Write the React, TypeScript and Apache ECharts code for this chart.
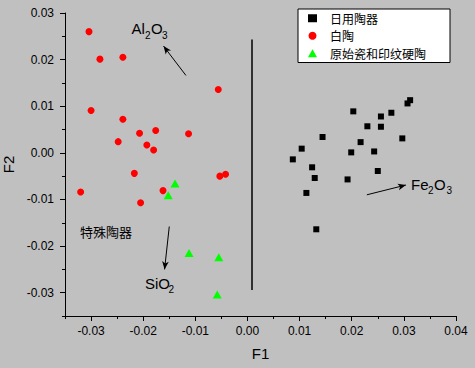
import React, { useEffect, useRef } from "react";
import * as echarts from "echarts";

// 日用陶器 (black squares)
const dailyWare: number[][] = [
  [0.0312, 0.0113], [0.0307, 0.0106], [0.0203, 0.0089], [0.0256, 0.0078], [0.0276, 0.0086],
  [0.0230, 0.0057], [0.0256, 0.0056], [0.0144, 0.0034], [0.0297, 0.0031], [0.0217, 0.0023],
  [0.0104, 0.0009], [0.0199, 0.0001], [0.0243, 0.0003], [0.0087, -0.0014], [0.0124, -0.0031],
  [0.0129, -0.0054], [0.0192, -0.0057], [0.0250, -0.0039], [0.0113, -0.0086], [0.0132, -0.0164],
];
// 白陶 (red dots)
const whiteWare: number[][] = [
  [-0.0304, 0.0260], [-0.0283, 0.0201], [-0.0239, 0.0205], [-0.0056, 0.0136], [-0.0300, 0.0091],
  [-0.0239, 0.0072], [-0.0207, 0.0042], [-0.0176, 0.0048], [-0.0113, 0.0041], [-0.0248, 0.0024],
  [-0.0193, 0.0017], [-0.0180, 0.0006], [-0.0217, -0.0044], [-0.0320, -0.0084], [-0.0162, -0.0081],
  [-0.0205, -0.0107], [-0.0053, -0.0050], [-0.0042, -0.0046],
];
// 原始瓷和印纹硬陶 (green triangles)
const protoWare: number[][] = [
  [-0.0139, -0.0066], [-0.0152, -0.0091], [-0.0112, -0.0215], [-0.0055, -0.0224], [-0.0058, -0.0304],
];

const seriesNames = ["日用陶器", "白陶", "原始瓷和印纹硬陶"];
const xTicks = [-0.03, -0.02, -0.01, 0, 0.01, 0.02, 0.03, 0.04];
const xMinorTicks = [-0.035, -0.025, -0.015, -0.005, 0.005, 0.015, 0.025, 0.035];
const yTicks = [-0.03, -0.02, -0.01, 0, 0.01, 0.02, 0.03];
const yMinorTicks = [-0.035, -0.025, -0.015, -0.005, 0.005, 0.015, 0.025];

// divider line and arrows (data coordinates): [start, end(head)]
const dividerLine = [[0.0009, 0.0243], [0.0009, -0.0294]];
const arrowAl2O3 = [[-0.0118, 0.0166], [-0.0161, 0.0229]];
const arrowSiO2 = [[-0.0150, -0.0158], [-0.0159, -0.0250]];
const arrowFe2O3 = [[0.0229, -0.0090], [0.0304, -0.0069]];

const AX_FONT = "Liberation Sans, Arial, sans-serif";
const CJK_FONT = "Noto Sans CJK SC, sans-serif";

function txt(text: string, x: number, y: number, size: number, font = AX_FONT) {
  return {
    type: "text",
    x,
    y,
    silent: true,
    style: { text, fontSize: size, fontFamily: font, fill: "#000", verticalAlign: "middle", align: "left" },
  };
}

export default function App() {
  const ref = useRef<HTMLDivElement>(null);
  useEffect(() => {
    if (!ref.current) return;
    const chart = echarts.init(ref.current, null, { renderer: "svg" });
    const fmt = (v: number) => (Math.abs(v) < 1e-9 ? "0.00" : v.toFixed(2));
    const axisCommon = {
      type: "value",
      splitLine: { show: false },
      axisLine: { show: true, onZero: false, lineStyle: { color: "#000", width: 1 } },
    };
    const option: any = {
      animation: false,
      backgroundColor: "#C0C0C0",
      grid: { left: 65, right: 19, top: 13, bottom: 52, containLabel: false, outerBoundsMode: "none" },
      legend: {
        data: seriesNames,
        orient: "vertical",
        left: 298,
        top: 9,
        backgroundColor: "#fff",
        borderColor: "#000",
        borderWidth: 1,
        borderRadius: 0,
        padding: [2, 24, 2, 10],
        itemGap: 3,
        itemWidth: 9,
        itemHeight: 8,
        textStyle: { fontFamily: CJK_FONT, fontSize: 12, color: "#000", lineHeight: 14.5, padding: [0, 0, 0, 8] },
      },
      xAxis: [
        {
          ...axisCommon,
          min: -0.035,
          max: 0.04,
          position: "bottom",
          name: "F1",
          nameLocation: "middle",
          nameGap: 30,
          nameTextStyle: { fontFamily: AX_FONT, fontSize: 15, color: "#000" },
          axisTick: { show: true, inside: false, length: 5, customValues: xTicks, lineStyle: { color: "#000" } },
          axisLabel: { customValues: xTicks, formatter: fmt, fontFamily: AX_FONT, fontSize: 12, color: "#000", margin: 9 },
        },
        {
          ...axisCommon,
          min: -0.035,
          max: 0.04,
          position: "bottom",
          axisLine: { show: false, onZero: false },
          axisTick: { show: true, inside: false, length: 3, customValues: xMinorTicks, lineStyle: { color: "#000" } },
          axisLabel: { show: false },
        },
      ],
      yAxis: [
        {
          ...axisCommon,
          min: -0.035,
          max: 0.03,
          position: "left",
          name: "F2",
          nameLocation: "middle",
          nameGap: 45,
          nameTextStyle: { fontFamily: AX_FONT, fontSize: 15, color: "#000" },
          axisTick: { show: true, inside: false, length: 5, customValues: yTicks, lineStyle: { color: "#000" } },
          axisLabel: { customValues: yTicks, formatter: fmt, fontFamily: AX_FONT, fontSize: 12, color: "#000", margin: 11 },
        },
        {
          ...axisCommon,
          min: -0.035,
          max: 0.03,
          position: "left",
          axisLine: { show: false, onZero: false },
          axisTick: { show: true, inside: false, length: 3, customValues: yMinorTicks, lineStyle: { color: "#000" } },
          axisLabel: { show: false },
        },
      ],
      series: [
        {
          name: seriesNames[0],
          type: "scatter",
          data: dailyWare,
          symbol: "rect",
          symbolSize: 6,
          itemStyle: { color: "#000", opacity: 1 },
        },
        {
          name: seriesNames[1],
          type: "scatter",
          data: whiteWare,
          symbol: "circle",
          symbolSize: 7,
          itemStyle: { color: "#FF0000", opacity: 1 },
        },
        {
          name: seriesNames[2],
          type: "scatter",
          data: protoWare,
          symbol: "triangle",
          symbolSize: [9, 8],
          itemStyle: { color: "#00FF00", opacity: 1 },
        },
        {
          name: "annotations",
          type: "scatter",
          data: [],
          silent: true,
          markLine: {
            silent: true,
            symbol: ["none", "none"],
            label: { show: false },
            lineStyle: { color: "#000", width: 1.5, type: "solid" },
            data: [[{ coord: dividerLine[0] }, { coord: dividerLine[1] }]],
          },
        },
        {
          name: "arrows",
          type: "scatter",
          data: [],
          silent: true,
          markLine: {
            silent: true,
            symbol: ["none", "arrow"],
            symbolSize: [5, 8],
            label: { show: false },
            lineStyle: { color: "#000", width: 1, type: "solid" },
            data: [
              [{ coord: arrowAl2O3[0] }, { coord: arrowAl2O3[1] }],
              [{ coord: arrowSiO2[0] }, { coord: arrowSiO2[1] }],
              [{ coord: arrowFe2O3[0] }, { coord: arrowFe2O3[1] }],
            ],
          },
        },
      ],
      graphic: [
        txt("Al", 131.5, 28, 15),
        txt("2", 145, 35.5, 10),
        txt("O", 151, 28, 15),
        txt("3", 162, 35.5, 10),
        txt("Fe", 411, 184.8, 15),
        txt("2", 428, 190.5, 10),
        txt("O", 434, 184.8, 15),
        txt("3", 446.5, 190.5, 10),
        txt("SiO", 145, 283, 15),
        txt("2", 168.5, 289.5, 10),
        txt("特殊陶器", 80, 231.5, 13, CJK_FONT),
      ],
    };
    chart.setOption(option);
    return () => chart.dispose();
  }, []);
  return <div ref={ref} style={{ position: "absolute", left: 0, top: 0, width: 475, height: 368 }} />;
}
